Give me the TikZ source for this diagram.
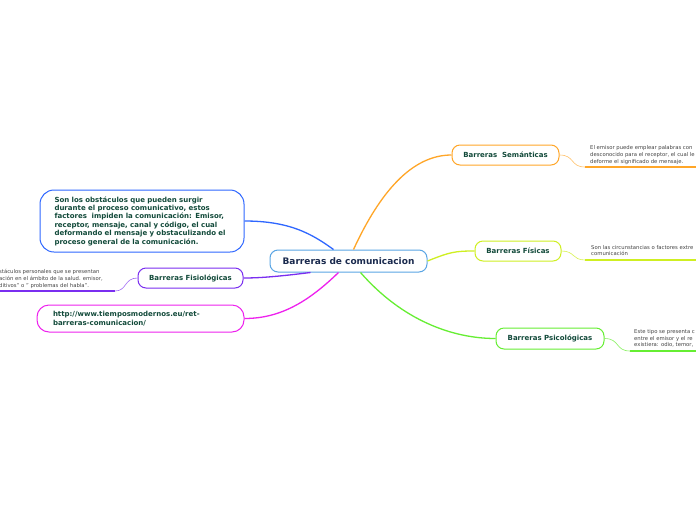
\documentclass[tikz,border=0pt]{standalone}
\usepackage{fontspec}
\setmainfont{DejaVu Sans}
\begin{document}
\begin{tikzpicture}[x=1pt,y=-1pt,
  box/.style={draw,fill=white,rounded corners=8pt,line width=1pt,inner sep=0pt,align=center,font=\bfseries\fontsize{7}{8.4}\selectfont,text=darkgreentxt},
  note/.style={inner sep=0pt,align=left,font=\fontsize{5.3}{6.6}\selectfont,text=notegray,anchor=west},
  main/.style={line width=1.3pt},
  thin/.style={line width=0.6pt},
  under/.style={line width=1.6pt}]
\definecolor{darkgreentxt}{HTML}{124A3A}
\definecolor{navytxt}{HTML}{1A2A4E}
\definecolor{notegray}{HTML}{444444}
\definecolor{cblue}{HTML}{5AA5E4}
\definecolor{corange}{HTML}{FFA628}
\definecolor{cyellow}{HTML}{CFEF22}
\definecolor{cgreen}{HTML}{66EE33}
\definecolor{cbig}{HTML}{2F67FF}
\definecolor{cpurple}{HTML}{7A2EF0}
\definecolor{cmag}{HTML}{EE22EE}
\useasboundingbox (0,0) rectangle (696,520);
\fill[white] (0,0) rectangle (696,520);
\clip (0,0) rectangle (696,520);

% nodes
\node[box,draw=cblue,minimum width=157pt,minimum height=22pt,text=navytxt,font=\bfseries\fontsize{9}{10}\selectfont] (c) at (348.5,261) {Barreras de comunicacion};
\node[box,draw=corange,minimum width=107pt,minimum height=20pt] (sem) at (505.5,155) {Barreras\ \ Semánticas};
\node[box,draw=cyellow,minimum width=86pt,minimum height=20pt] (fis) at (518,251) {Barreras Físicas};
\node[box,draw=cgreen,minimum width=108pt,minimum height=21pt] (psi) at (550,338.5) {Barreras Psicológicas};
\node[box,draw=cbig,rounded corners=14pt,minimum height=62pt,text width=175pt,inner xsep=14.5pt,align=left] (big) at (142,221) {Son los obstáculos que pueden surgir\\durante el proceso comunicativo, estos\\factores\ \ impiden la comunicación: Emisor,\\receptor, mensaje, canal y código, el cual\\deformando el mensaje y obstaculizando el\\proceso general de la comunicación.};
\node[box,draw=cpurple,minimum width=105pt,minimum height=20pt] (fisio) at (190.5,278) {Barreras Fisiológicas};
\node[box,draw=cmag,rounded corners=12pt,minimum height=27pt,text width=175pt,inner xsep=16pt,align=left] (url) at (140.5,318.5) {http://www.tiemposmodernos.eu/ret-\\barreras-comunicacion/};

% notes
\node[note] (nsem) at (590,155) {El emisor puede emplear palabras con\\desconocido para el receptor, el cual le\\deforme el significado de mensaje.};
\node[note] (nfis) at (591,250.5) {Son las circunstancias o factores extre\\comunicación};
\node[note] (npsi) at (634,338.5) {Este tipo se presenta c\\entre el emisor y el re\\existiera: odio, temor,};
\node[note] (nfisio) at (-1,279) {stáculos personales que se presentan\\ación en el ámbito de la salud. emisor,\\ditivos" o " problemas del habla".};

\coordinate (usem1) at (585,167); \coordinate (usem2) at (696,167);
\coordinate (ufis1) at (585,260); \coordinate (ufis2) at (696,260);
\coordinate (upsi1) at (630,351); \coordinate (upsi2) at (696,351);
\coordinate (ufisio1) at (115,291); \coordinate (ufisio2) at (0,291);

% main connectors
\draw[main,cbig] (big.east) .. controls (290,221) and (312,234) .. ([xshift=-15pt]c.north);
\draw[main,corange] ([xshift=5pt]c.north) .. controls (380,192) and (412,155) .. (sem.west);
\draw[main,cyellow] (c.east) .. controls (450,252) and (455,251) .. (fis.west);
\draw[main,cgreen] ([xshift=12pt]c.south) .. controls (402,320) and (452,338.5) .. (psi.west);
\draw[main,cpurple] ([xshift=-38pt]c.south) .. controls (282,276) and (262,278) .. (fisio.east);
\draw[main,cmag] ([xshift=-10pt]c.south) .. controls (310,300) and (282,318.5) .. (url.east);

% side connectors and underlines
\draw[thin,corange!70] (sem.east) .. controls (575,155) and (570,167) .. (usem1);
\draw[under,corange] (usem1) -- (usem2);
\draw[thin,cyellow!80] (fis.east) .. controls (575,251) and (572,260) .. (ufis1);
\draw[under,cyellow] (ufis1) -- (ufis2);
\draw[thin,cgreen!80] (psi.east) .. controls (620,338.5) and (615,351) .. (upsi1);
\draw[under,cgreen] (upsi1) -- (upsi2);
\draw[thin,cpurple!70] (fisio.west) .. controls (124,278) and (127,291) .. (ufisio1);
\draw[under,cpurple] (ufisio1) -- (ufisio2);
\end{tikzpicture}
\end{document}
